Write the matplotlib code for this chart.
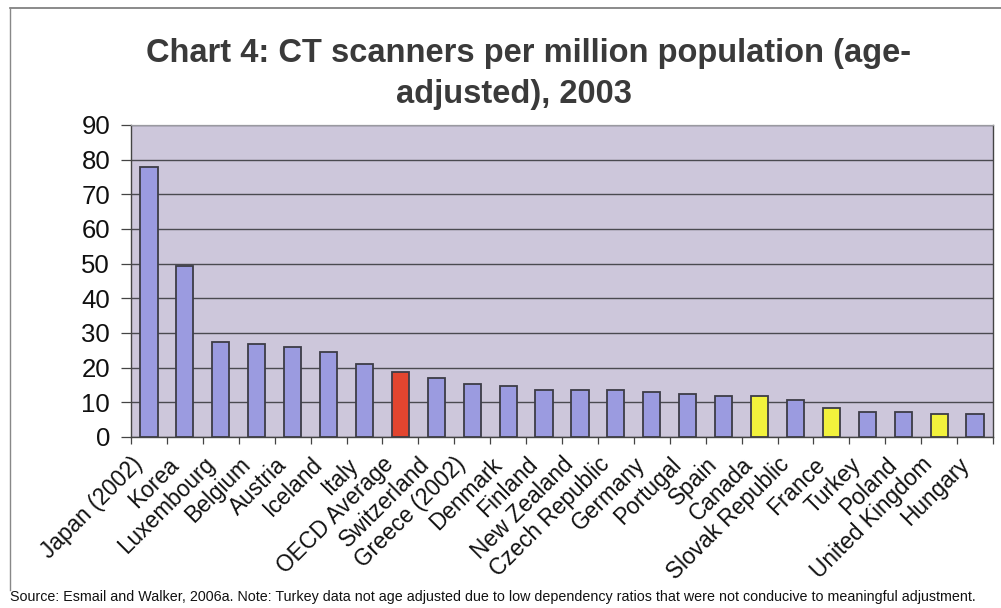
import numpy as np
import matplotlib.pyplot as plt
import matplotlib.transforms as mtransforms
from matplotlib.lines import Line2D

plt.rcParams['font.family'] = ['Liberation Sans', 'DejaVu Sans']

countries = ['Japan (2002)', 'Korea', 'Luxembourg', 'Belgium', 'Austria', 'Iceland',
             'Italy', 'OECD Average', 'Switzerland', 'Greece (2002)', 'Denmark', 'Finland',
             'New Zealand', 'Czech Republic', 'Germany', 'Portugal', 'Spain', 'Canada',
             'Slovak Republic', 'France', 'Turkey', 'Poland', 'United Kingdom', 'Hungary']
scanners = [78.0, 49.4, 27.5, 26.8, 26.1, 24.4,
            21.0, 18.7, 16.9, 15.2, 14.6, 13.5,
            13.5, 13.5, 12.9, 12.3, 11.7, 11.7,
            10.6, 8.3, 7.1, 7.1, 6.5, 6.5]
# OECD average in red, the four comparison countries in yellow
highlight = {'OECD Average': '#e2452f', 'Canada': '#f2f23c', 'France': '#f2f23c',
             'United Kingdom': '#f2f23c'}
base_color = '#9b9be0'

source_note = ('Source: Esmail and Walker, 2006a. Note: Turkey data not age adjusted due to '
               'low dependency ratios that were not conducive to meaningful adjustment.')

fig = plt.figure(figsize=(10.01, 6.08), dpi=100)
ax = fig.add_axes([131 / 1001, 1 - 437 / 608, 862 / 1001, 312 / 608])
ax.set_facecolor('#cdc7db')

x = np.arange(len(countries)) + 0.5
colors = [highlight.get(c, base_color) for c in countries]
ax.bar(x, scanners, width=0.48, color=colors, edgecolor='#3c3c46', linewidth=1.3, zorder=3)

ax.set_xlim(0, len(countries))
ax.set_ylim(0, 90)
ax.set_yticks(np.arange(0, 91, 10))
ax.grid(axis='y', color='#4a4a50', linewidth=1.0, zorder=1)

# category boundaries carry the tick marks; the names are placed as slanted text
ax.set_xticks(np.arange(0, len(countries) + 1))
ax.set_xticklabels([])
label_trans = ax.get_xaxis_transform() + mtransforms.ScaledTranslation(
    -18 / 100, -16 / 100, fig.dpi_scale_trans)
for xi, name in zip(x, countries):
    ax.text(xi, 0, name, transform=label_trans, rotation=45, ha='right', va='top',
            rotation_mode='anchor', fontsize=16.3, color='#111111')

ax.tick_params(axis='x', which='major', length=5, width=0.9, color='#444444', direction='out')
ax.tick_params(axis='y', length=7, width=0.9, color='#444444', labelsize=18.5,
               labelcolor='#111111', pad=8)

for side in ['left', 'bottom', 'right']:
    ax.spines[side].set_color('#444444')
    ax.spines[side].set_linewidth(1.0)
ax.spines['top'].set_color('#9a9aa0')
ax.spines['top'].set_linewidth(0.9)

fig.text(0.528, 1 - 62 / 608, 'Chart 4: CT scanners per million population (age-',
         ha='center', va='baseline', fontsize=23.5, fontweight='bold', color='#3a3a3a')
fig.text(0.513, 1 - 103 / 608, 'adjusted), 2003',
         ha='center', va='baseline', fontsize=23.5, fontweight='bold', color='#3a3a3a')

fig.text(10 / 1001, 1 - 601 / 608, source_note, ha='left', va='baseline',
         fontsize=10.3, color='#111111')

# outer chart border (top and left edges)
fig.add_artist(Line2D([10 / 1001, 1.0], [1 - 8 / 608, 1 - 8 / 608], color='#777777',
                      linewidth=1.2, transform=fig.transFigure))
fig.add_artist(Line2D([10 / 1001, 10 / 1001], [1 - 8 / 608, 1 - 590 / 608], color='#888888',
                      linewidth=1.0, transform=fig.transFigure))

fig.savefig('out.png', dpi=100)
